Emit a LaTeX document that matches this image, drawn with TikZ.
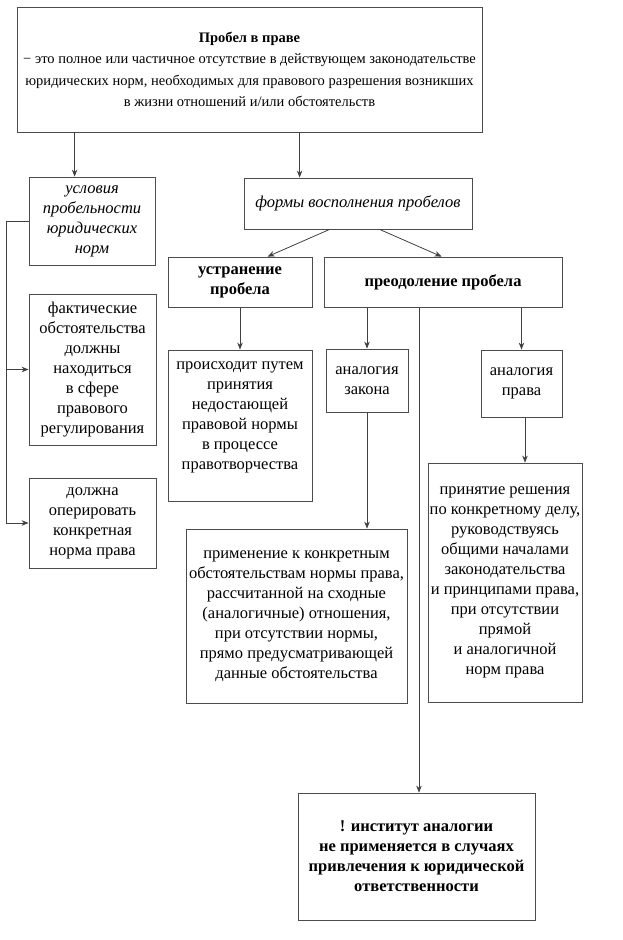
\documentclass[tikz,border=0pt]{standalone}
\usepackage{fontspec}
\setmainfont{Liberation Serif}
\usetikzlibrary{arrows.meta}
\begin{document}
\begin{tikzpicture}[x=1pt,y=-1pt,
  box/.style={draw=black!70, line width=0.8pt, inner sep=0pt, align=center,
    font=\fontsize{16.5}{20}\selectfont},
  conn/.style={draw=black!75, line width=0.8pt},
  arr/.style={conn, -{Stealth[length=7pt,width=5.5pt]}}]
\useasboundingbox (0,0) rectangle (623,940);
\node[box, minimum width=465, minimum height=125, font=\fontsize{14.5}{21.5}\selectfont] (top) at (249.5,69.5)
  {\textbf{Пробел в праве}\\ − это полное или частичное отсутствие в действующем законодательстве\\ юридических норм, необходимых для правового разрешения возникших\\ в жизни отношений и/или обстоятельств};
\node[box, minimum width=126, minimum height=88] (usl) at (92,221)
  {\itshape условия\\ \itshape пробельности\\ \itshape юридических\\ \itshape норм};
\node[box, minimum width=228, minimum height=51] (forms) at (358,203.5)
  {\itshape формы восполнения пробелов};
\node[box, minimum width=144, minimum height=50] (ustr) at (240,282)
  {\textbf{устранение}\\ \textbf{пробела}};
\node[box, minimum width=238, minimum height=50] (preod) at (443,282)
  {\textbf{преодоление пробела}};
\node[box, minimum width=144, minimum height=151] (proc) at (240,425.5)
  {происходит путем\\ принятия\\ недостающей\\ правовой нормы\\ в процессе\\ правотворчества\\ \mbox{}};
\node[box, minimum width=127, minimum height=151] (fakt) at (92.5,369.5)
  {фактические\\ обстоятельства\\ должны\\ находиться\\ в сфере\\ правового\\ регулирования};
\node[box, minimum width=127, minimum height=90] (dolzh) at (92.5,523)
  {должна\\ оперировать\\ конкретная\\ норма права};
\node[box, minimum width=82, minimum height=63] (zak) at (367,380.5)
  {аналогия\\ закона};
\node[box, minimum width=81, minimum height=67] (prava) at (521.5,383.5)
  {аналогия\\ права};
\node[box, minimum width=221, minimum height=174] (prim) at (296.5,616)
  {применение к конкретным\\ обстоятельствам нормы права,\\ рассчитанной на сходные\\ (аналогичные) отношения,\\ при отсутствии нормы,\\ прямо предусматривающей\\ данные обстоятельства};
\node[box, minimum width=154, minimum height=239] (prin) at (505,582.5)
  {принятие решения\\ по конкретному делу,\\ руководствуясь\\ общими началами\\ законодательства\\ и принципами права,\\ при отсутствии\\ прямой\\ и аналогичной\\ норм права};
\node[box, minimum width=237, minimum height=127] (inst) at (416.5,856.5)
  {\textbf{! институт аналогии}\\ \textbf{не применяется в случаях}\\ \textbf{привлечения к юридической}\\ \textbf{ответственности}};
% connectors
\coordinate (uslin) at ([xshift=46]usl.north west);
\draw[arr] (top.south -| uslin) -- (uslin);
\coordinate (formin) at ([xshift=56]forms.north west);
\draw[arr] (top.south -| formin) -- (formin);
\draw[arr] ([xshift=86]forms.south west) -- ([xshift=100]ustr.north west);
\draw[arr] ([xshift=136]forms.south west) -- ([xshift=118]preod.north west);
\draw[arr] (ustr.south) -- (proc.north);
\draw[arr] (preod.south -| zak.north) -- (zak.north);
\draw[arr] (preod.south -| prava.north) -- (prava.north);
\coordinate (instin) at ([xshift=2.5]inst.north);
\draw[arr] (preod.south -| instin) -- (instin);
\draw[arr] (zak.south) -- (zak.south |- prim.north);
\draw[arr] ([xshift=3.5]prava.south) -- ([xshift=3.5]prava.south |- prin.north);
\draw[conn] (usl.west) -- ++(-22,0) coordinate (bk);
\draw[arr] (bk) |- (dolzh.west);
\draw[arr] (bk |- fakt.west) -- (fakt.west);
\end{tikzpicture}
\end{document}
